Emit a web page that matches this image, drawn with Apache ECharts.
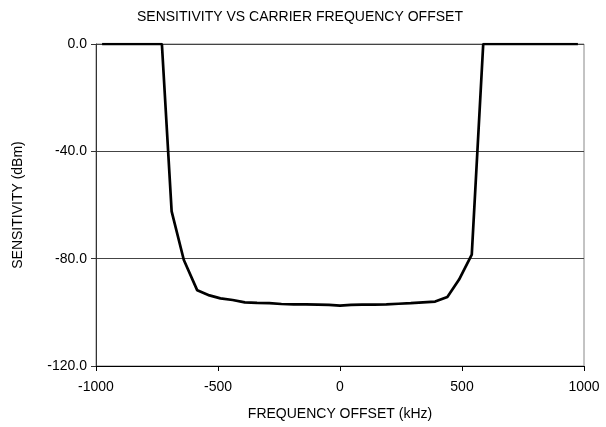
<!DOCTYPE html>
<html>
<head>
<meta charset="utf-8">
<script src="https://cdn.jsdelivr.net/npm/echarts@6/dist/echarts.min.js"></script>
<style>
  html, body { margin: 0; padding: 0; background: #fff; }
  #chart { width: 606px; height: 427px; }
</style>
</head>
<body>
<div id="chart"></div>
<script>
// frequency offset (kHz) and sensitivity (dBm)
var freqOffset = [-975, -730, -690, -640, -585, -535, -490, -440, -390, -340, -290, -240, -190, -140, -90, -45, 0,
  45, 90, 140, 190, 240, 290, 340, 390, 440, 488, 540, 587, 975]
var sensitivity = [0, 0, -62.4, -80.5, -91.8, -93.7, -94.8, -95.4, -96.3, -96.5, -96.6, -96.9, -97.0, -97.0, -97.1, -97.2, -97.5,
  -97.2, -97.1, -97.1, -97.0, -96.8, -96.6, -96.3, -96.0, -94.3, -87.8, -78.5, 0, 0]

var font = 'Liberation Sans, Arial, sans-serif'

var chart = echarts.init(document.getElementById('chart'))
chart.setOption({
  animation: false,
  title: {
    text: 'SENSITIVITY VS CARRIER FREQUENCY OFFSET',
    left: 132,
    top: 5,
    textStyle: { fontFamily: font, fontSize: 14, fontWeight: 'normal', color: '#000' }
  },
  grid: {
    left: 96,
    right: 22,
    top: 44,
    bottom: 61,
    show: true,
    borderColor: '#888',
    borderWidth: 1
  },
  xAxis: {
    type: 'value',
    min: -1000,
    max: 1000,
    interval: 500,
    name: 'FREQUENCY OFFSET (kHz)',
    nameLocation: 'middle',
    nameGap: 41,
    nameTextStyle: { fontFamily: font, fontSize: 14, color: '#000' },
    axisLine: { onZero: false, lineStyle: { color: '#000', width: 1 } },
    axisTick: { show: true, length: 5, lineStyle: { color: '#000' } },
    axisLabel: {
      fontFamily: font, fontSize: 14, color: '#000', margin: 14,
      formatter: function (v) { return String(v) }
    },
    splitLine: { show: false }
  },
  yAxis: {
    type: 'value',
    min: -120,
    max: 0,
    interval: 40,
    name: 'SENSITIVITY (dBm)',
    nameLocation: 'middle',
    nameGap: 71,
    nameTextStyle: { fontFamily: font, fontSize: 14, color: '#000' },
    axisLine: { show: true, onZero: false, lineStyle: { color: '#333', width: 1 } },
    axisTick: { show: true, length: 5, lineStyle: { color: '#333' } },
    axisLabel: {
      fontFamily: font, fontSize: 14, color: '#000', margin: 9,
      formatter: function (v) { return v.toFixed(1) }
    },
    splitLine: { show: true, lineStyle: { color: '#444', width: 1 } }
  },
  series: [
    {
      type: 'line',
      data: freqOffset.map(function (f, i) { return [f, sensitivity[i]] }),
      showSymbol: false,
      lineStyle: { color: '#000', width: 2.7 }
    }
  ]
})
</script>
</body>
</html>
